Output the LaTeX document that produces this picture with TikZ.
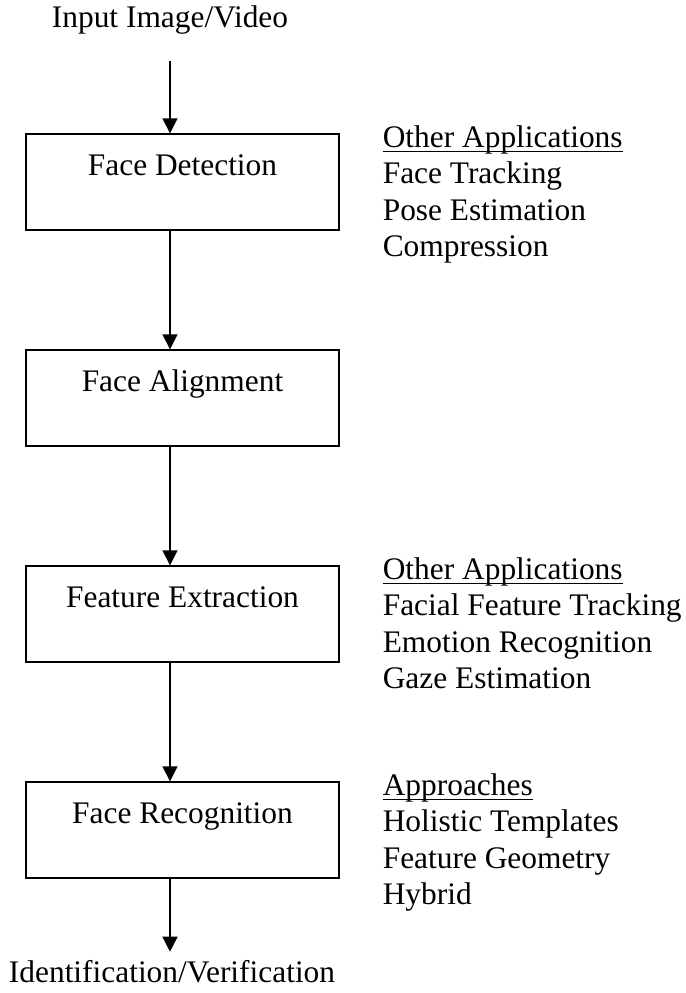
\documentclass[tikz,border=0pt]{standalone}
\usepackage{fontspec}
\setmainfont{Liberation Serif}
\usepackage{tikz}
\usetikzlibrary{positioning}
\usetikzlibrary{arrows.meta}
\tikzstyle{stage} = [rectangle, minimum width=156.5pt, text height=20.5pt, text depth=27.5pt, inner sep=0pt, text centered, draw=black, line width=0.7pt]
\tikzstyle{io} = [inner sep=0pt, text height=11pt, text depth=3.5pt]
\tikzstyle{apps} = [align=left, inner sep=0pt]
\tikzstyle{arrow} = [line width=0.7pt, -{Triangle[length=7.5pt,width=7.5pt]}]
\newcommand{\listhead}[1]{\setbox0\hbox{#1}\rlap{\rule[-2.3pt]{\wd0}{0.6pt}}#1}

\begin{document}
\begin{tikzpicture}[node distance=108pt, font=\fontsize{15.7pt}{18.2pt}\selectfont]
\useasboundingbox (0,0) rectangle (343pt,-496.5pt);
\node (det) [stage] at (91.25pt,-91pt) {Face Detection};
\node (ali) [stage, below of=det] {Face Alignment};
\node (ext) [stage, below of=ali] {Feature Extraction};
\node (rec) [stage, below of=ext] {Face Recognition};
\node (in) [io, above=49pt of det, xshift=-6.25pt] {Input Image/Video};
\node (out) [io, below=40.5pt of rec, xshift=-5.25pt] {Identification/Verification};
% side lists (base = last line, so shift down three lines)
\node (app1) [apps, right=21.35pt of det.north east, anchor=base west, yshift=-61.6pt] {\listhead{Other Applications}\\Face Tracking\\Pose Estimation\\Compression};
\node (app2) [apps, right=21.35pt of ext.north east, anchor=base west, yshift=-61.6pt] {\listhead{Other Applications}\\Facial Feature Tracking\\Emotion Recognition\\Gaze Estimation};
\node (appr) [apps, right=21.35pt of rec.north east, anchor=base west, yshift=-61.6pt] {\listhead{Approaches}\\Holistic Templates\\Feature Geometry\\Hybrid};
\draw [arrow, shorten <=13pt] (in.south) -- (in.south |- det.north);
\draw [arrow] (det.south -| in.south) -- (ali.north -| in.south);
\draw [arrow] (ali.south -| in.south) -- (ext.north -| in.south);
\draw [arrow] (ext.south -| in.south) -- (rec.north -| in.south);
\draw [arrow, shorten >=4pt] (rec.south -| in.south) -- (out.north -| in.south);
\end{tikzpicture}
\end{document}
